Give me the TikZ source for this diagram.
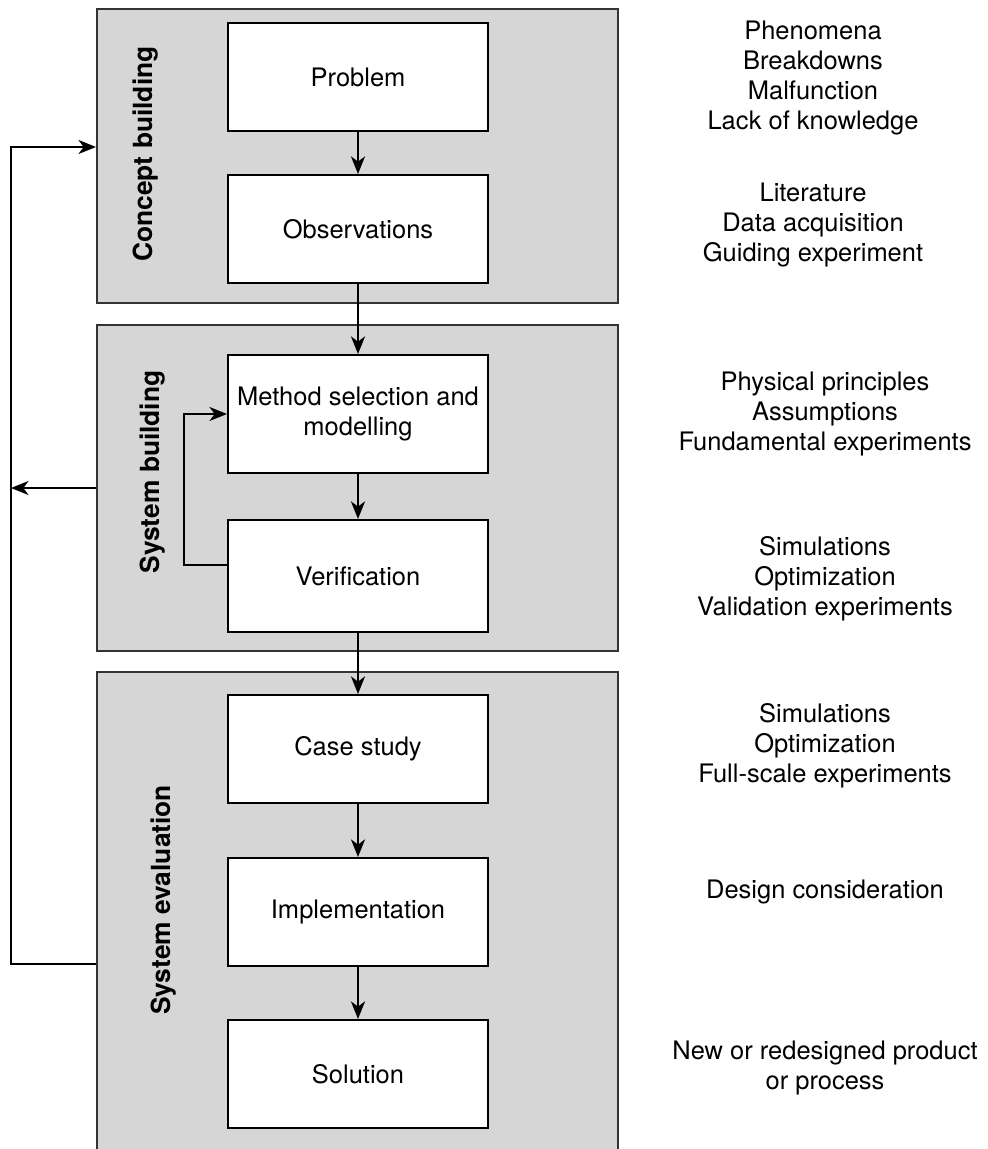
\documentclass[tikz,border=0pt]{standalone}
\usepackage{fontspec}
\setmainfont{TeX Gyre Heros}
\usepackage{tikz}
\usetikzlibrary{arrows.meta}
\definecolor{panelgray}{RGB}{214,214,214}
\definecolor{paneledge}{RGB}{51,51,51}
\tikzset{
  panel/.style={draw=paneledge,fill=panelgray,line width=1.2pt,minimum width=10.42cm,inner sep=0pt},
  stage/.style={draw=black,fill=white,line width=1.2pt,minimum width=5.2cm,minimum height=2.16cm,align=center,font=\fontsize{14.5}{17}\selectfont},
  phase/.style={rotate=90,font=\fontsize{15}{18}\selectfont\bfseries},
  note/.style={align=center,font=\fontsize{14.5}{17}\selectfont},
  flow/.style={-{Stealth[length=10pt,width=8pt,inset=3pt]},line width=1.4pt},
  back/.style={-{Stealth[length=10pt,width=8pt,inset=3pt]},line width=1pt},
}

\begin{document}
\begin{tikzpicture}[x=0.02cm,y=-0.02cm]
\useasboundingbox (0,0) rectangle (987,1149);
% Phases
\node[panel,minimum height=5.88cm] (concept) at (357.5,156) {};
\node[panel,minimum height=6.52cm] (system) at (357.5,488) {};
\node[panel,minimum height=9.6cm] (evaluation) at (357.5,912) {};
\node[phase] (conceptlbl) at (146,154) {Concept building};
\node[phase] (systemlbl) at (153,472) {System building};
\node[phase] (evallbl) at (164,900) {System evaluation};
% Stages
\node[stage] (problem) at (358,77) {Problem};
\node[stage] (observ) at (358,229) {Observations};
\node[stage,minimum height=2.36cm] (method) at (358,414) {Method selection and\\modelling};
\node[stage,minimum height=2.24cm] (verif) at (358,576) {Verification};
\node[stage] (casestudy) at (358,749) {Case study};
\node[stage] (implem) at (358,912) {Implementation};
\node[stage] (solution) at (358,1074) {Solution};
\draw[flow] (problem) -- (observ);
\draw[flow] (observ) -- (method);
\draw[flow] (method) -- (verif);
\draw[flow] (verif) -- (casestudy);
\draw[flow] (casestudy) -- (implem);
\draw[flow] (implem) -- (solution);
% Feedback
\draw[back] ([yshift=0.22cm]verif.west) -- ++(-43,0) |- (method.west);
\coordinate (railtop) at (11,147);
\coordinate (railmid) at (11,488);
\draw[back] (system.west) -- (railmid);
\draw[back] ([yshift=-1.04cm]evaluation.west) -| (railtop) -- ([yshift=0.18cm]concept.west);
% Notes
\node[note] (probnote) at (813,78) {Phenomena\\Breakdowns\\Malfunction\\Lack of knowledge};
\node[note] (obsnote) at (813,225) {Literature\\Data acquisition\\Guiding experiment};
\node[note] (methnote) at (825,414) {Physical principles\\Assumptions\\Fundamental experiments};
\node[note] (verinote) at (825,579) {Simulations\\Optimization\\Validation experiments};
\node[note] (casenote) at (825,746) {Simulations\\Optimization\\Full-scale experiments};
\node[note] (implnote) at (825,892) {Design consideration};
\node[note] (solnote) at (825,1068) {New or redesigned product\\or process};
\end{tikzpicture}
\end{document}
